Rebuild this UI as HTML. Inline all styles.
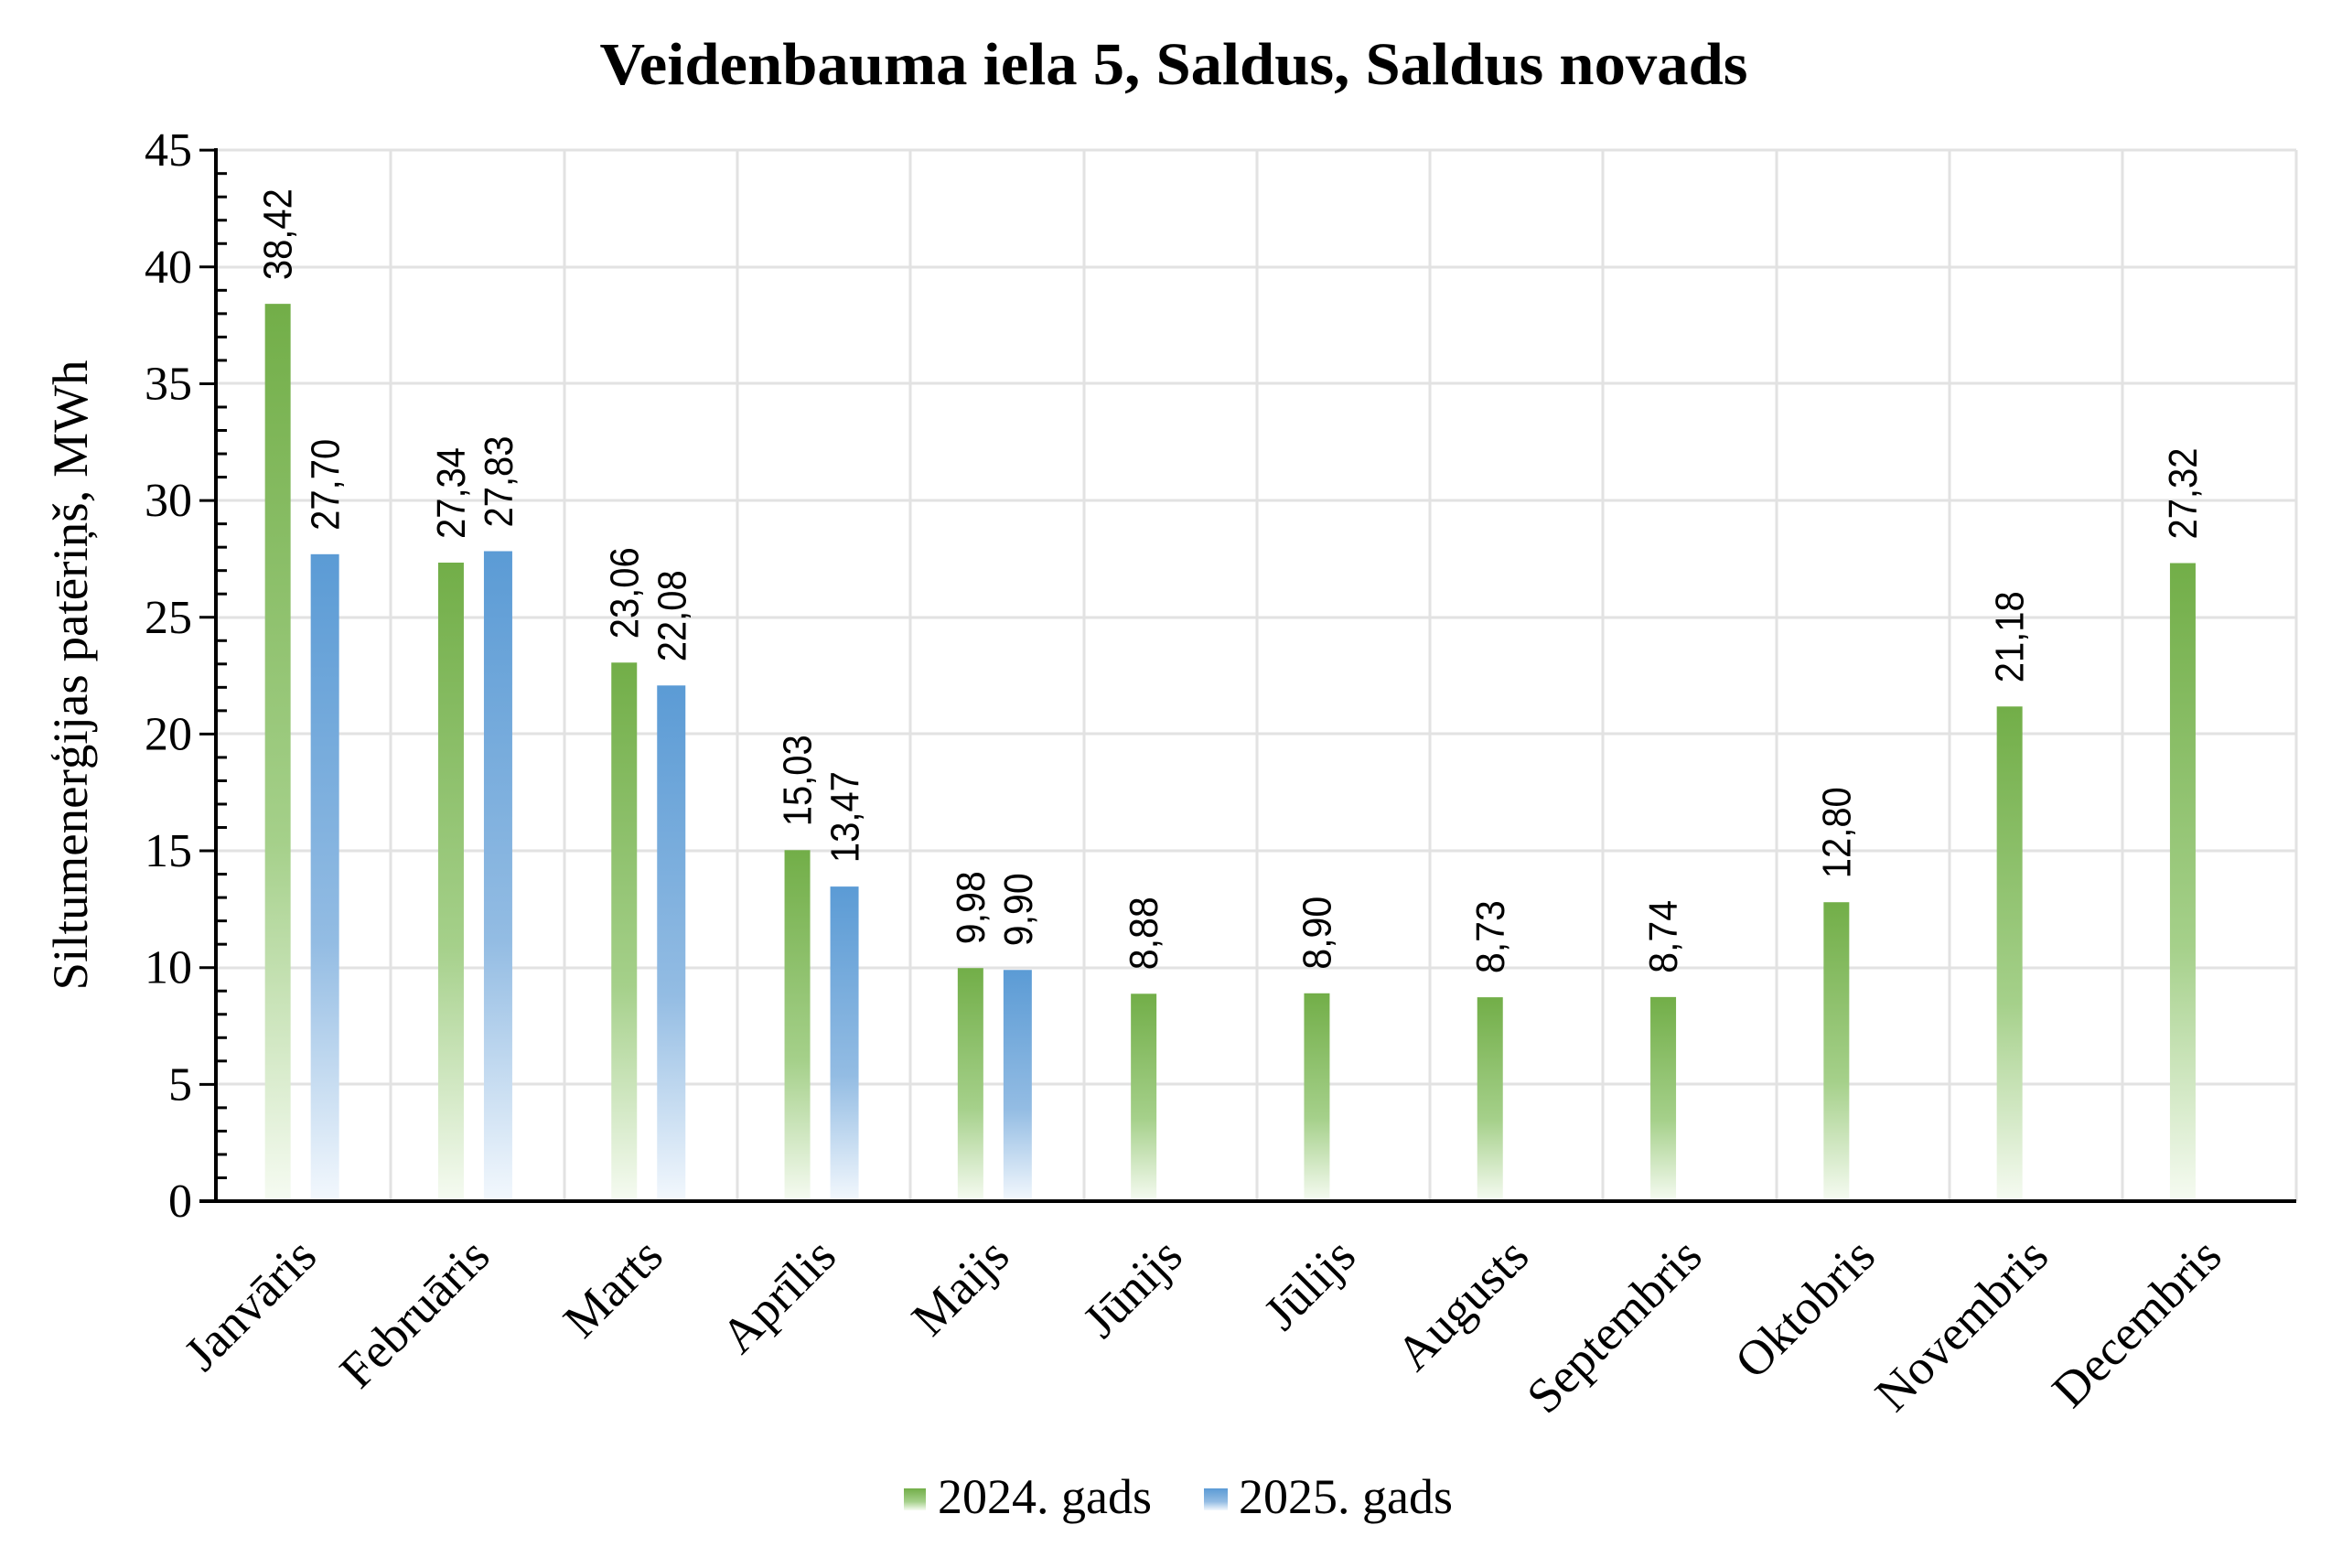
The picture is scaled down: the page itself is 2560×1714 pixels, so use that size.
<!DOCTYPE html>
<html><head><meta charset="utf-8"><style>body{margin:0;background:#fff}svg{display:block}</style></head><body>
<svg width="2560" height="1714" viewBox="0 0 2560 1714" xmlns="http://www.w3.org/2000/svg">
<defs>
<linearGradient id="g" x1="0" y1="0" x2="0" y2="1"><stop offset="0" stop-color="#72ae48"/><stop offset="0.6" stop-color="#a5d08a"/><stop offset="1" stop-color="#f6fbf2"/></linearGradient>
<linearGradient id="b" x1="0" y1="0" x2="0" y2="1"><stop offset="0" stop-color="#5b9bd5"/><stop offset="0.6" stop-color="#93bce3"/><stop offset="1" stop-color="#f3f8fd"/></linearGradient>
</defs>
<text x="1283" y="92" text-anchor="middle" font-family="Liberation Serif" font-weight="bold" font-size="66" textLength="1255" lengthAdjust="spacingAndGlyphs">Veidenbauma iela 5, Saldus, Saldus novads</text>
<g stroke="#e2e2e2" stroke-width="3">
<line x1="238" y1="164" x2="2510" y2="164"/><line x1="238" y1="292" x2="2510" y2="292"/><line x1="238" y1="419" x2="2510" y2="419"/><line x1="238" y1="547" x2="2510" y2="547"/><line x1="238" y1="675" x2="2510" y2="675"/><line x1="238" y1="802" x2="2510" y2="802"/><line x1="238" y1="930" x2="2510" y2="930"/><line x1="238" y1="1058" x2="2510" y2="1058"/><line x1="238" y1="1185" x2="2510" y2="1185"/>
<line x1="427" y1="164" x2="427" y2="1313"/><line x1="617" y1="164" x2="617" y2="1313"/><line x1="806" y1="164" x2="806" y2="1313"/><line x1="995" y1="164" x2="995" y2="1313"/><line x1="1185" y1="164" x2="1185" y2="1313"/><line x1="1374" y1="164" x2="1374" y2="1313"/><line x1="1563" y1="164" x2="1563" y2="1313"/><line x1="1752" y1="164" x2="1752" y2="1313"/><line x1="1942" y1="164" x2="1942" y2="1313"/><line x1="2131" y1="164" x2="2131" y2="1313"/><line x1="2320" y1="164" x2="2320" y2="1313"/><line x1="2510" y1="164" x2="2510" y2="1313"/>
</g>
<g id="bars"></g>
<g id="lbl" font-family="Liberation Sans" font-size="44"></g>
<g id="xl" font-family="Liberation Serif" font-size="54"></g>
<g id="yt" font-family="Liberation Serif" font-size="52" text-anchor="end"></g>
<g id="tk" stroke="#000" stroke-width="3"></g>
<line x1="236" y1="162" x2="236" y2="1314" stroke="#000" stroke-width="4"/>
<line x1="218" y1="1313" x2="2510" y2="1313" stroke="#000" stroke-width="4"/>
<text transform="translate(95,738) rotate(-90)" text-anchor="middle" font-family="Liberation Serif" font-size="54" textLength="689" lengthAdjust="spacingAndGlyphs">Siltumenerģijas patēriņš, MWh</text>
<rect x="988" y="1627" width="24" height="24" fill="url(#g)"/>
<text x="1025" y="1654" font-family="Liberation Serif" font-size="54">2024. gads</text>
<rect x="1316" y="1627" width="26" height="24" fill="url(#b)"/>
<text x="1354" y="1654" font-family="Liberation Serif" font-size="54">2025. gads</text>
<script>
var ns="http://www.w3.org/2000/svg";
function el(p,t,a,tx){var e=document.createElementNS(ns,t);for(var k in a)e.setAttribute(k,a[k]);if(tx)e.textContent=tx;document.getElementById(p).appendChild(e);}
var m=["Janvāris","Februāris","Marts","Aprīlis","Maijs","Jūnijs","Jūlijs","Augusts","Septembris","Oktobris","Novembris","Decembris"];
var a=[38.42,27.34,23.06,15.03,9.98,8.88,8.90,8.73,8.74,12.80,21.18,27.32];
var b=[27.70,27.83,22.08,13.47,9.90];
var Y=function(v){return 1313-v*25.53;};
function f(v){return v.toFixed(2).replace(".",",");}
for(var i=0;i<12;i++){var c=238+(i+0.5)*189.3;
 var x=c-43,y=Y(a[i]);el("bars","rect",{x:x,y:y,width:28,height:1313-y,fill:"url(#g)"});
 el("lbl","text",{transform:"translate("+(x+29)+","+(y-26)+") rotate(-90)",textLength:(f(a[i]).length*20),lengthAdjust:"spacingAndGlyphs"},f(a[i]));
 if(i<5){var x2=c+7,y2=Y(b[i]);el("bars","rect",{x:x2,y:y2,width:31,height:1313-y2,fill:"url(#b)"});
 el("lbl","text",{transform:"translate("+(x2+31)+","+(y2-26)+") rotate(-90)",textLength:(f(b[i]).length*20),lengthAdjust:"spacingAndGlyphs"},f(b[i]));}
 el("xl","text",{transform:"translate("+(c+16)+",1376) rotate(-45)","text-anchor":"end"},m[i]);
}
for(var v=0;v<=45;v++){var yy=Y(v);
 if(v%5==0){el("tk","line",{x1:218,y1:yy,x2:236,y2:yy});el("yt","text",{x:210,y:yy+17},""+v);}
 else el("tk","line",{x1:236,y1:yy,x2:248,y2:yy});
}
</script>
</svg>
</body></html>
